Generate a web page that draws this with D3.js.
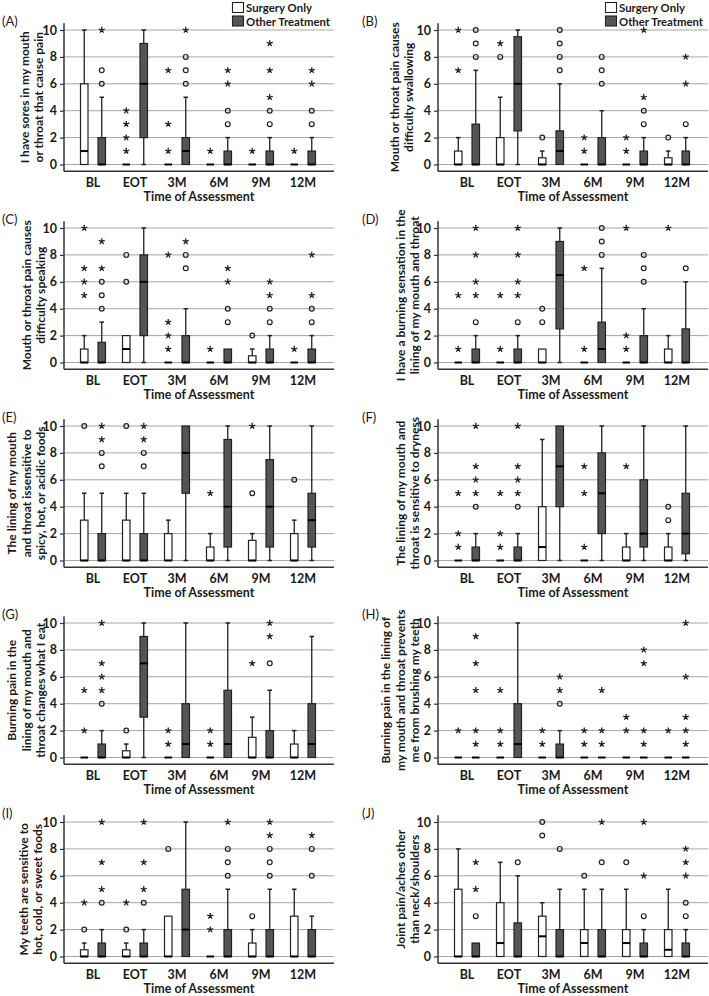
<!DOCTYPE html>
<html><head><meta charset="utf-8">
<script src="https://cdn.jsdelivr.net/npm/d3@7"></script>
<style>
body{margin:0;background:#fff}
svg text{font-family:Lato,"Open Sans",sans-serif;fill:#1a1a1a}
</style>
</head><body>
<svg id="chart" width="709" height="996"></svg>
<script>
const categories = ["BL","EOT","3M","6M","9M","12M"];
const groups = ["Surgery Only","Other Treatment"];
const yTicks = [0,2,4,6,8,10];
const panelLabels = ["(A)","(B)","(C)","(D)","(E)","(F)","(G)","(H)","(I)","(J)"];
const panelTitles = [
  ["I have sores in my mouth","or throat that cause pain"],
  ["Mouth or throat pain causes","difficulty swallowing"],
  ["Mouth or throat pain causes","difficulty speaking"],
  ["I have a burning sensation in the","lining of my mouth and throat"],
  ["The lining of my mouth","and throat issensitive to","spicy, hot, or acidic foods"],
  ["The lining of my mouth and","throat is sensitive to dryness"],
  ["Burning pain in the","lining of my mouth and","throat changes what I eat"],
  ["Burning pain in the lining of","my mouth and throat prevents","me from brushing my teeth"],
  ["My teeth are sensitive to","hot, cold, or sweet foods"],
  ["Joint pain/aches other","than neck/shoulders"]
];
const xTitle = "Time of Assessment";

// box stats per category: [lower whisker, Q1, median, Q3, upper whisker]; _o = circle outliers; _s = star (extreme) outliers
const surgA=[[0,0,1,6,10],[0,0,0,0,0],[0,0,0,0,0],[0,0,0,0,0],[0,0,0,0,0],[0,0,0,0,0]];
const surgA_o=[[],[],[],[],[],[]];
const surgA_s=[[],[1,2,3,4],[1,3,7],[1],[1],[1]];
const othA=[[0,0,0,2,5],[0,2,6,9,10],[0,0,1,2,5],[0,0,0,1,2],[0,0,0,1,2],[0,0,0,1,2]];
const othA_o=[[6,7],[],[6,7,8],[3,4],[3,4],[3,4]];
const othA_s=[[10],[],[10],[6,7],[5,7,9],[6,7]];

const surgB=[[0,0,0,1,2],[0,0,0,2,5],[0,0,0,0.5,1],[0,0,0,0,0],[0,0,0,0,0],[0,0,0,0.5,1]];
const surgB_o=[[],[8],[2],[],[],[2]];
const surgB_s=[[7,10],[9],[],[1,2],[1,2],[]];
const othB=[[0,0,0,3,7],[0,2.5,6,9.5,10],[0,0,1,2.5,6],[0,0,0,2,4],[0,0,0,1,2],[0,0,0,1,2]];
const othB_o=[[8,9,10],[],[7,8,9,10],[6,7,8],[3,4],[3]];
const othB_s=[[],[],[],[],[5,10],[6,8]];

const surgC=[[0,0,0,1,2],[0,0,1,2,2],[0,0,0,0,0],[0,0,0,0,0],[0,0,0,0.5,1],[0,0,0,0,0]];
const surgC_o=[[],[6,8],[],[],[2],[]];
const surgC_s=[[5,6,7,10],[],[1,2,3,8],[1],[],[1]];
const othC=[[0,0,0,1.5,3],[0,2,6,8,10],[0,0,0,2,4],[0,0,0,1,1],[0,0,0,1,2],[0,0,0,1,2]];
const othC_o=[[4,5,6],[],[7,8],[3,4],[3,4],[3,4]];
const othC_s=[[7,9],[],[9],[6,7],[5,6],[5,8]];

const surgD=[[0,0,0,0,0],[0,0,0,0,0],[0,0,0,1,1],[0,0,0,0,0],[0,0,0,0,0],[0,0,0,1,2]];
const surgD_o=[[],[],[3,4],[],[],[]];
const surgD_s=[[1,5],[1,5],[],[1,7],[1,2,10],[10]];
const othD=[[0,0,0,1,2],[0,0,0,1,2],[0,2.5,6.5,9,10],[0,0,1,3,7],[0,0,0,2,4],[0,0,0,2.5,6]];
const othD_o=[[3],[3],[],[8,9,10],[6,7,8],[7]];
const othD_s=[[5,6,8,10],[5,6,8,10],[],[],[],[]];

const surgE=[[0,0,0,3,5],[0,0,0,3,5],[0,0,0,2,3],[0,0,0,1,2],[0,0,0,1.5,2],[0,0,0,2,3]];
const surgE_o=[[10],[10],[],[],[5],[6]];
const surgE_s=[[],[],[],[5],[10],[]];
const othE=[[0,0,0,2,5],[0,0,0,2,5],[0,5,8,10,10],[0,1,4,9,10],[0,1,4,7.5,10],[0,1,3,5,10]];
const othE_o=[[7,8],[7,8],[],[],[],[]];
const othE_s=[[9,10],[9,10],[],[],[],[]];

const surgF=[[0,0,0,0,0],[0,0,0,0,0],[0,0,1,4,9],[0,0,0,0,0],[0,0,0,1,2],[0,0,0,1,2]];
const surgF_o=[[],[],[],[],[],[3,4]];
const surgF_s=[[1,2,5],[1,2,5],[],[1,5,7],[7],[]];
const othF=[[0,0,0,1,2],[0,0,0,1,2],[0,4,7,10,10],[0,2,5,8,10],[0,1,2,6,10],[0,0.5,2,5,10]];
const othF_o=[[4],[4],[],[],[],[]];
const othF_s=[[5,6,7,10],[5,6,7,10],[],[],[],[]];

const surgG=[[0,0,0,0,0],[0,0,0,0.5,1],[0,0,0,0,0],[0,0,0,0,0],[0,0,0,1.5,3],[0,0,0,1,2]];
const surgG_o=[[],[2],[],[],[],[]];
const surgG_s=[[2,5],[],[1,2],[1,2],[7],[]];
const othG=[[0,0,0,1,2],[0,3,7,9,10],[0,0,1,4,10],[0,0,1,5,10],[0,0,0,2,5],[0,0,1,4,9]];
const othG_o=[[4],[],[],[],[7],[]];
const othG_s=[[5,6,7,10],[],[],[],[9,10],[]];

const surgH=[[0,0,0,0,0],[0,0,0,0,0],[0,0,0,0,0],[0,0,0,0,0],[0,0,0,0,0],[0,0,0,0,0]];
const surgH_o=[[],[],[],[],[],[]];
const surgH_s=[[2],[1,2,5],[1,2],[1,2],[2,3],[2]];
const othH=[[0,0,0,0,0],[0,0,1,4,10],[0,0,0,1,2],[0,0,0,0,0],[0,0,0,0,0],[0,0,0,0,0]];
const othH_o=[[],[],[4],[],[],[]];
const othH_s=[[1,2,5,7,9],[],[5,6],[1,2,5],[1,2,7,8],[1,2,3,6,10]];

const surgI=[[0,0,0,0.5,1],[0,0,0,0.5,1],[0,0,0,3,3],[0,0,0,0,0],[0,0,0,1,2],[0,0,0,3,5]];
const surgI_o=[[2],[2],[8],[],[3],[]];
const surgI_s=[[4],[4],[],[2,3],[],[]];
const othI=[[0,0,0,1,2],[0,0,0,1,2],[0,0,2,5,10],[0,0,0,2,5],[0,0,0,2,5],[0,0,0,2,3]];
const othI_o=[[4],[4],[],[6,7,8],[6,7,8],[6,8]];
const othI_s=[[5,7,10],[5,7,10],[],[10],[9,10],[9]];

const surgJ=[[0,0,0,5,8],[0,0,1,4,7],[0,0,1.5,3,4],[0,0,1,2,5],[0,0,1,2,5],[0,0,0.5,2,5]];
const surgJ_o=[[],[],[9,10],[6],[7],[]];
const surgJ_s=[[],[],[],[],[],[]];
const othJ=[[0,0,0,1,1],[0,0,0,2.5,6],[0,0,0,2,5],[0,0,0,2,5],[0,0,0,1,2],[0,0,0,1,2]];
const othJ_o=[[3],[7],[8],[7],[3],[3,4]];
const othJ_s=[[5,7],[],[],[10],[6,10],[6,7,8]];

const panelData = [
  [[surgA,surgA_o,surgA_s],[othA,othA_o,othA_s]],
  [[surgB,surgB_o,surgB_s],[othB,othB_o,othB_s]],
  [[surgC,surgC_o,surgC_s],[othC,othC_o,othC_s]],
  [[surgD,surgD_o,surgD_s],[othD,othD_o,othD_s]],
  [[surgE,surgE_o,surgE_s],[othE,othE_o,othE_s]],
  [[surgF,surgF_o,surgF_s],[othF,othF_o,othF_s]],
  [[surgG,surgG_o,surgG_s],[othG,othG_o,othG_s]],
  [[surgH,surgH_o,surgH_s],[othH,othH_o,othH_s]],
  [[surgI,surgI_o,surgI_s],[othI,othI_o,othI_s]],
  [[surgJ,surgJ_o,surgJ_s],[othJ,othJ_o,othJ_s]]
];

// ---------- layout ----------
const svg = d3.select("#chart");
const axisX = [64, 438];
const plotW = 270;
const rowTop = [30, 228, 426, 623, 822]; // pixel of value 10
const unitPx = 13.45;
const fills = ["#ffffff", "#555555"];
const strokeC = "#222";
const gridC = "#a6a6a6";
const boxW = 7.5, offset = 8.75, capW = 4.5;
const titleShift = [-2,-6,0,0,0,0,0,0,-3,0];
const legendW = [66, 84];

function starPath(cx, cy, r){
  let p = "";
  for(let k=0;k<5;k++){
    const a = (-90 + 72*k) * Math.PI/180;
    p += `M${cx},${cy}L${cx + r*Math.cos(a)},${cy + r*Math.sin(a)}`;
  }
  return p;
}

panelData.forEach((pd, i) => {
  const col = i % 2, row = Math.floor(i / 2);
  const x0 = axisX[col];
  const y10 = rowTop[row];
  const y0 = y10 + 10*unitPx;
  const y = d3.scaleLinear().domain([-0.5, 10.5]).range([y0 + 0.5*unitPx, y10 - 0.5*unitPx]);
  const x = d3.scaleBand().domain(categories).range([x0 + 8, x0 + 260]).padding(0);
  const g = svg.append("g");

  // gridlines
  g.selectAll("line.grid").data(yTicks).join("line")
    .attr("x1", x0).attr("x2", x0 + plotW)
    .attr("y1", d => y(d)).attr("y2", d => y(d))
    .attr("stroke", gridC).attr("stroke-width", 1);

  // y axis
  const yAxis = d3.axisLeft(y).tickValues(yTicks).tickSize(4).tickPadding(3).tickFormat(d3.format("d"));
  const ya = g.append("g").attr("transform", `translate(${x0},0)`).call(yAxis);
  ya.select(".domain").attr("stroke", "#333").attr("stroke-width", 1.5).attr("d", `M0,${y(10.5)}V${y(-0.5)}`);
  ya.selectAll(".tick line").attr("stroke", "#333").attr("stroke-width", 1.2);
  ya.selectAll(".tick text").attr("font-size", 12.5).attr("font-weight", 700).attr("fill", "#1a1a1a");

  // x axis
  const xAxis = d3.axisBottom(x).tickSize(0).tickPadding(7);
  const xa = g.append("g").attr("transform", `translate(0,${y(-0.5)})`).call(xAxis);
  xa.select(".domain").attr("stroke", "#333").attr("stroke-width", 1.5).attr("d", `M${x0},0H${x0 + plotW}`);
  xa.selectAll(".tick text").attr("font-size", 12.5).attr("font-weight", 700).attr("fill", "#1a1a1a");

  // x title
  g.append("text").attr("x", x0 + plotW/2).attr("y", y0 + 36.5)
    .attr("text-anchor", "middle").attr("font-size", 12.5).attr("font-weight", 700).text(xTitle);

  // y title
  const lines = panelTitles[i];
  const yc = (y0 + y10) / 2;
  lines.forEach((t, li) => {
    const cx = x0 - 23 + titleShift[i] - (lines.length - 1 - li) * 14.5;
    g.append("text").attr("transform", `translate(${cx + 4.3},${yc}) rotate(-90)`)
      .attr("text-anchor", "middle").attr("font-size", 12).attr("font-weight", 700).text(t);
  });

  // panel label
  g.append("text").attr("x", col === 0 ? 2 : 362).attr("y", y10 - 4)
    .attr("font-size", 13).attr("font-weight", 400).text(panelLabels[i]);

  // boxes
  pd.forEach((gd, gi) => {
    const [stats, circ, stars] = gd;
    categories.forEach((c, ci) => {
      const cx = x(c) + x.bandwidth()/2 + (gi === 0 ? -offset : offset);
      const [lo, q1, med, q3, hi] = stats[ci];
      if (hi > q3) {
        g.append("line").attr("x1", cx).attr("x2", cx).attr("y1", y(q3)).attr("y2", y(hi)).attr("stroke", strokeC).attr("stroke-width", 1.3);
        g.append("line").attr("x1", cx - capW/2).attr("x2", cx + capW/2).attr("y1", y(hi)).attr("y2", y(hi)).attr("stroke", strokeC).attr("stroke-width", 1.5);
      }
      if (lo < q1) {
        g.append("line").attr("x1", cx).attr("x2", cx).attr("y1", y(q1)).attr("y2", y(lo)).attr("stroke", strokeC).attr("stroke-width", 1.3);
        g.append("line").attr("x1", cx - capW/2).attr("x2", cx + capW/2).attr("y1", y(lo)).attr("y2", y(lo)).attr("stroke", strokeC).attr("stroke-width", 1.5);
      }
      if (q3 > q1) {
        g.append("rect").attr("x", cx - boxW/2).attr("width", boxW)
          .attr("y", y(q3)).attr("height", y(q1) - y(q3))
          .attr("fill", fills[gi]).attr("stroke", strokeC).attr("stroke-width", 1.2);
      }
      g.append("line").attr("x1", cx - boxW/2).attr("x2", cx + boxW/2).attr("y1", y(med)).attr("y2", y(med))
        .attr("stroke", "#000").attr("stroke-width", 2);
      circ[ci].forEach(v => {
        g.append("circle").attr("cx", cx).attr("cy", y(v)).attr("r", 2.4)
          .attr("fill", "none").attr("stroke", strokeC).attr("stroke-width", 1.2);
      });
      stars[ci].forEach(v => {
        g.append("path").attr("d", starPath(cx, y(v), 3.2))
          .attr("stroke", strokeC).attr("stroke-width", 1.3).attr("fill", "none");
      });
    });
  });

  // legend on top row
  if (row === 0) {
    const lx = col === 0 ? 232 : 605;
    groups.forEach((gname, gi) => {
      const ly = 2 + gi * 13.5;
      svg.append("rect").attr("x", lx + 0.5).attr("y", ly + 0.5).attr("width", 11).attr("height", 10)
        .attr("fill", fills[gi]).attr("stroke", strokeC).attr("stroke-width", 1.1);
      svg.append("text").attr("x", lx + 14).attr("y", ly + 10)
        .attr("font-size", 11.5).attr("font-weight", 700)
        .attr("textLength", legendW[gi]).attr("lengthAdjust", "spacingAndGlyphs").text(gname);
    });
  }
});
</script>
</body></html>
